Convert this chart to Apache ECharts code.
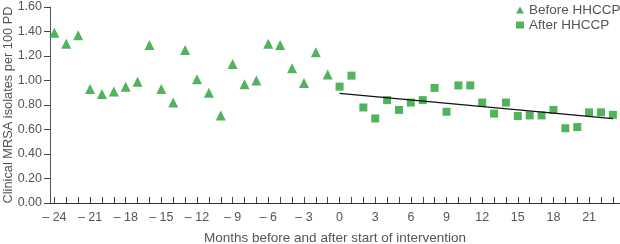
<!DOCTYPE html>
<html>
<head>
<meta charset="utf-8">
<script src="https://cdn.jsdelivr.net/npm/echarts@6/dist/echarts.min.js"></script>
<style>
html,body{margin:0;padding:0;background:#fff;}
#chart{width:620px;height:244px;}
</style>
</head>
<body>
<div id="chart"></div>
<script>
// Months relative to start of intervention
const beforeMonths = [-24,-23,-22,-21,-20,-19,-18,-17,-16,-15,-14,-13,-12,-11,-10,-9,-8,-7,-6,-5,-4,-3,-2,-1];
const beforeValues = [1.39,1.30,1.37,0.93,0.89,0.91,0.95,0.99,1.29,0.93,0.82,1.25,1.01,0.90,0.715,1.135,0.97,1.00,1.30,1.29,1.10,0.98,1.23,1.05];
const afterMonths = [0,1,2,3,4,5,6,7,8,9,10,11,12,13,14,15,16,17,18,19,20,21,22,23];
const afterValues = [0.95,1.04,0.78,0.69,0.84,0.76,0.82,0.84,0.94,0.745,0.96,0.96,0.82,0.73,0.82,0.71,0.715,0.715,0.76,0.61,0.62,0.74,0.74,0.72];
const trendMonths = [0,23];
const trendValues = [0.895,0.688];
const xLabelValues = [-24,-21,-18,-15,-12,-9,-6,-3,0,3,6,9,12,15,18,21];
const xTickValues = [-24,-23,-22,-21,-20,-19,-18,-17,-16,-15,-14,-13,-12,-11,-10,-9,-8,-7,-6,-5,-4,-3,-2,-1,0,1,2,3,4,5,6,7,8,9,10,11,12,13,14,15,16,17,18,19,20,21,22,23];
const yTicks = [0,0.2,0.4,0.6,0.8,1.0,1.2,1.4,1.6];
const seriesNames = ['Before HHCCP','After HHCCP'];
const xTitle = 'Months before and after start of intervention';
const yTitle = 'Clinical MRSA isolates per 100 PD';

const green = '#25a033';
const textColor = '#555';
const font = 'Liberation Sans, Arial, Helvetica, sans-serif';

const chart = echarts.init(document.getElementById('chart'), null, {renderer:'canvas'});
chart.setOption({
  animation:false,
  backgroundColor:'#fff',
  textStyle:{fontFamily:font},
  grid:{left:50,right:0,top:7,bottom:41,containLabel:false,outerBoundsMode:'none'},
  legend:{
    data:[{name:seriesNames[0],icon:'triangle'},{name:seriesNames[1],icon:'rect'}],
    orient:'vertical', left:511, top:-2, itemGap:1, itemWidth:8, itemHeight:7,
    textStyle:{color:textColor,fontSize:13.5,fontFamily:font}
  },
  xAxis:{
    type:'value', min:-24.37, max:23.6,
    name:xTitle, nameLocation:'middle', nameGap:28, nameMoveOverlap:false,
    nameTextStyle:{color:textColor,fontSize:13.5,fontFamily:font},
    splitLine:{show:false},
    axisLine:{show:true,onZero:false,lineStyle:{color:'#333',width:1}},
    axisTick:{show:true,inside:true,length:6,customValues:xTickValues,lineStyle:{color:'#444'}},
    axisLabel:{customValues:xLabelValues,margin:8,color:textColor,fontSize:12.5,fontFamily:font,
      formatter:v=> v<0 ? '\u2013 ' + Math.abs(v) : String(v)}
  },
  yAxis:{
    type:'value', min:0, max:1.6, interval:0.2,
    name:yTitle, nameLocation:'middle', nameGap:35, nameRotate:90, nameMoveOverlap:false,
    nameTextStyle:{color:textColor,fontSize:12.8,fontFamily:font},
    splitLine:{show:false},
    axisLine:{show:true,onZero:false,lineStyle:{color:'#555',width:1}},
    axisTick:{show:true,inside:false,length:6,lineStyle:{color:'#444'}},
    axisLabel:{margin:8,color:textColor,fontSize:12.5,fontFamily:font,formatter:v=>v.toFixed(2)}
  },
  series:[
    {name:seriesNames[0],type:'scatter',symbol:'triangle',symbolSize:10,
     itemStyle:{color:green},
     data:beforeMonths.map((m,i)=>[m,beforeValues[i]])},
    {name:seriesNames[1],type:'scatter',symbol:'rect',symbolSize:8,
     itemStyle:{color:green},
     data:afterMonths.map((m,i)=>[m,afterValues[i]])},
    {name:'trend',type:'line',symbol:'none',silent:true,z:3,
     lineStyle:{color:'#111',width:1.2},
     data:trendMonths.map((m,i)=>[m,trendValues[i]])}
  ]
});
</script>
</body>
</html>
